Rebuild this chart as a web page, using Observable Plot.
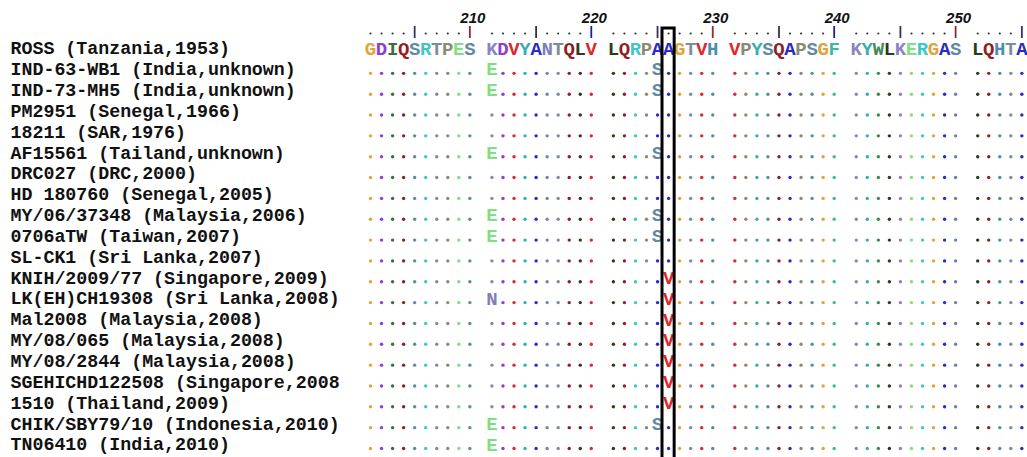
<!DOCTYPE html>
<html>
<head>
<meta charset="utf-8">
<script src="https://cdn.jsdelivr.net/npm/d3@7"></script>
<script src="https://cdn.jsdelivr.net/npm/@observablehq/plot@0.6"></script>
<style>
  html, body { margin: 0; padding: 0; background: #fff; }
  #chart svg { display: block; }
</style>
</head>
<body>
<div id="chart"></div>
<script>
// ---- data ----
const strains = [
  "ROSS (Tanzania,1953)",
  "IND-63-WB1 (India,unknown)",
  "IND-73-MH5 (India,unknown)",
  "PM2951 (Senegal,1966)",
  "18211 (SAR,1976)",
  "AF15561 (Tailand,unknown)",
  "DRC027 (DRC,2000)",
  "HD 180760 (Senegal,2005)",
  "MY/06/37348 (Malaysia,2006)",
  "0706aTW (Taiwan,2007)",
  "SL-CK1 (Sri Lanka,2007)",
  "KNIH/2009/77 (Singapore,2009)",
  "LK(EH)CH19308 (Sri Lanka,2008)",
  "Mal2008 (Malaysia,2008)",
  "MY/08/065 (Malaysia,2008)",
  "MY/08/2844 (Malaysia,2008)",
  "SGEHICHD122508 (Singapore,2008",
  "1510 (Thailand,2009)",
  "CHIK/SBY79/10 (Indonesia,2010)",
  "TN06410 (India,2010)"
];
const referenceSeq = "GDIQSRTPESKDVYANTQLVLQRPAAGTVHVPYSQAPSGFKYWLKERGASLQHTA";
const startPos = 201;
const rulerLabels = [210, 220, 230, 240, 250];
const highlightPos = 226;
// substitutions relative to ROSS: [strain, position, residue]
const mutStrain = [
  "IND-63-WB1 (India,unknown)", "IND-63-WB1 (India,unknown)",
  "IND-73-MH5 (India,unknown)", "IND-73-MH5 (India,unknown)",
  "AF15561 (Tailand,unknown)", "AF15561 (Tailand,unknown)",
  "MY/06/37348 (Malaysia,2006)", "MY/06/37348 (Malaysia,2006)",
  "0706aTW (Taiwan,2007)", "0706aTW (Taiwan,2007)",
  "KNIH/2009/77 (Singapore,2009)",
  "LK(EH)CH19308 (Sri Lanka,2008)", "LK(EH)CH19308 (Sri Lanka,2008)",
  "Mal2008 (Malaysia,2008)",
  "MY/08/065 (Malaysia,2008)",
  "MY/08/2844 (Malaysia,2008)",
  "SGEHICHD122508 (Singapore,2008",
  "1510 (Thailand,2009)",
  "CHIK/SBY79/10 (Indonesia,2010)", "CHIK/SBY79/10 (Indonesia,2010)",
  "TN06410 (India,2010)"
];
const mutPos = [211, 225, 211, 225, 211, 225, 211, 225, 211, 225, 226, 211, 226, 226, 226, 226, 226, 226, 211, 225, 211];
const mutAA  = ["E","S","E","S","E","S","E","S","E","S","V","N","V","V","V","V","V","V","E","S","E"];

// ---- styles ----
const aaColor = {
  G: "#e3a23a", D: "#8a3fd6", I: "#3b6e3e", Q: "#8e1f25", S: "#5f8aa3",
  R: "#3fc6c6", T: "#7d8d9c", P: "#8c8a74", E: "#7fe07f", K: "#8a84c6",
  V: "#e2262a", Y: "#37aeae", A: "#2a2ac8", N: "#7e7eb8", L: "#2f3a1c",
  H: "#4a8fb0", F: "#3fb8a0", W: "#3a8a58"
};
const col = p => (p - startPos) + Math.floor((p - startPos) / 10);

// ---- derived tables ----
const refRows = Array.from(referenceSeq, (aa, i) => ({pos: startPos + i, aa}));
const muts = mutStrain.map((s, i) => ({strain: s, pos: mutPos[i], aa: mutAA[i]}));
const mutKey = new Set(muts.map(m => m.strain + "|" + m.pos));
const dots = [];
for (const s of strains.slice(1)) {
  for (const r of refRows) {
    if (!mutKey.has(s + "|" + r.pos)) dots.push({strain: s, pos: r.pos, aa: r.aa});
  }
}
const rulerDots = refRows.filter(r => r.pos % 5 !== 0);
const rulerTicks = refRows.filter(r => r.pos % 5 === 0);
const tickColor = p => p % 10 !== 0 ? "#333355" : (p % 20 === 0 ? "#22228a" : "#8a2e2e");

const mono = "'Liberation Mono', 'Courier New', monospace";
const lastCol = col(startPos + referenceSeq.length - 1);

const chart = Plot.plot({
  width: 1027,
  height: 457,
  marginLeft: 10,
  marginTop: 0,
  marginRight: 0,
  marginBottom: 0,
  x: {type: "linear", domain: [0, lastCol], range: [370, 370 + lastCol * 11.04], axis: null},
  y: {type: "point", domain: strains, range: [48, 444], padding: 0, round: false, axis: null},
  color: {type: "identity"},
  style: {background: "#fff"},
  marks: [
    // ruler numbers
    Plot.text(rulerLabels, {
      x: d => col(d), text: d => String(d), frameAnchor: "top", dy: 18, dx: 3,
      lineAnchor: "middle", fontSize: 15, fontWeight: "bold", fontStyle: "italic",
      fontFamily: "'Liberation Sans', Arial, sans-serif", fill: "#111"
    }),
    // ruler dots
    Plot.dot(rulerDots, {x: d => col(d.pos), frameAnchor: "top", dy: 33, r: 1.1, fill: "#333", stroke: "none"}),
    // ruler ticks
    Plot.ruleX(rulerTicks, {x: d => col(d.pos), insetTop: 26, insetBottom: 457 - 38, stroke: d => tickColor(d.pos), strokeWidth: 1.8}),
    // strain labels
    Plot.text(strains, {
      y: d => d, text: d => d, frameAnchor: "left", textAnchor: "start",
      fontSize: 18.3, fontWeight: "bold", fontFamily: mono, fill: "#111"
    }),
    // reference residues
    Plot.text(refRows, {
      x: d => col(d.pos), y: () => strains[0], text: "aa", fill: d => aaColor[d.aa],
      fontSize: 19, fontWeight: "bold", fontFamily: mono
    }),
    // identical residues shown as dots
    Plot.dot(dots, {x: d => col(d.pos), y: "strain", dy: 4, r: 1.7, fill: d => aaColor[d.aa], stroke: "none"}),
    // substitutions
    Plot.text(muts, {
      x: d => col(d.pos), y: "strain", text: "aa", fill: d => aaColor[d.aa],
      fontSize: 19, fontWeight: "bold", fontFamily: mono
    }),
    // highlight box around position 226
    Plot.rect([highlightPos], {
      x1: d => col(d) - 0.55, x2: d => col(d) + 0.55,
      insetTop: 28, insetBottom: -6, fill: "none", stroke: "#000", strokeWidth: 3
    })
  ]
});
document.getElementById("chart").append(chart);
</script>
</body>
</html>
